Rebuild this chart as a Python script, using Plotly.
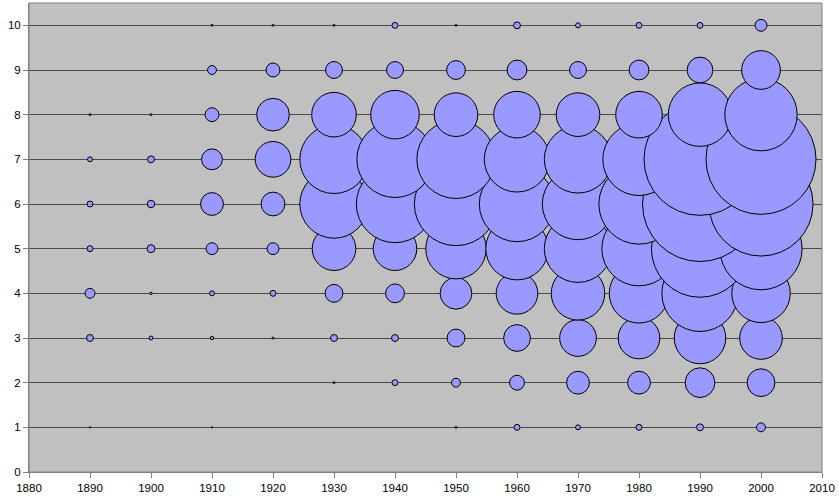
import plotly.graph_objects as go

decades = [1890, 1900, 1910, 1920, 1930, 1940, 1950, 1960, 1970, 1980, 1990, 2000]
levels = [1, 2, 3, 4, 5, 6, 7, 8, 9, 10]

# bubble amounts (area-proportional), one list per level, by decade
amount_1 = [0.2, 0, 0.2, 0, 0, 0, 0.4, 3.6, 2.5, 3.6, 4.9, 8.1]
amount_2 = [0, 0, 0, 0, 0.4, 3.6, 8.1, 22.5, 52.9, 52.9, 90.0, 78.4]
amount_3 = [4.9, 1.6, 1.2, 0.4, 4.9, 4.9, 32.4, 72.9, 136.9, 176.4, 270.4, 184.9]
amount_4 = [10.0, 0.6, 2.5, 3.6, 32.4, 36.1, 102.4, 176.4, 291.6, 360.0, 592.9, 348.1]
amount_5 = [3.6, 6.4, 14.4, 14.4, 193.6, 193.6, 372.1, 396.9, 462.4, 562.5, 960.4, 688.9]
amount_6 = [3.6, 5.6, 52.9, 57.6, 476.1, 608.4, 705.6, 577.6, 518.4, 656.1, 1345.6, 1102.5]
amount_7 = [2.5, 4.9, 44.1, 129.6, 476.1, 592.9, 624.1, 435.6, 462.4, 532.9, 1276.9, 1232.1]
amount_8 = [0.4, 0.4, 19.6, 108.9, 202.5, 240.1, 193.6, 220.9, 193.6, 220.9, 409.6, 532.9]
amount_9 = [0, 0, 8.1, 19.6, 28.9, 28.9, 36.1, 40.0, 28.9, 40.0, 67.6, 152.1]
amount_10 = [0, 0, 0.4, 0.4, 0.4, 3.6, 0.4, 4.9, 2.5, 3.6, 3.6, 14.4]

amounts = [amount_1, amount_2, amount_3, amount_4, amount_5,
           amount_6, amount_7, amount_8, amount_9, amount_10]

x_ticks = [1880, 1890, 1900, 1910, 1920, 1930, 1940, 1950, 1960, 1970, 1980, 1990, 2000, 2010]
y_ticks = [0, 1, 2, 3, 4, 5, 6, 7, 8, 9, 10]

max_amount = max(max(a) for a in amounts)
max_diam = 115
sizeref = 2 * max_amount / (max_diam ** 2)

fig = go.Figure()
for lvl, vals in zip(levels, amounts):
    xs = [d for d, v in zip(decades, vals) if v > 0]
    vs = [v for v in vals if v > 0]
    fig.add_trace(go.Scatter(
        x=xs, y=[lvl] * len(xs), mode="markers",
        marker=dict(size=vs, sizemode="area", sizeref=sizeref, sizemin=0,
                    color="#9999FF", line=dict(color="#000000", width=1),
                    opacity=1),
        showlegend=False, hoverinfo="skip",
    ))

fig.update_layout(
    width=839, height=502,
    margin=dict(l=29, r=17, t=3, b=30, autoexpand=False),
    paper_bgcolor="#FFFFFF",
    plot_bgcolor="#C0C0C0",
    font=dict(family="Liberation Sans, Arial, sans-serif", size=11.5, color="#000000"),
    showlegend=False,
)
fig.update_xaxes(
    range=[1880, 2010], tickvals=x_ticks, ticktext=[str(t) for t in x_ticks],
    showgrid=False, zeroline=False, automargin=False,
    showline=True, linecolor="#808080", linewidth=1,
    ticks="outside", ticklen=5, tickcolor="#808080",
    mirror=False,
)
fig.update_yaxes(
    range=[0, 10.5], tickvals=y_ticks, ticktext=[str(t) for t in y_ticks],
    showgrid=True, gridcolor="#4a4a4a", gridwidth=1, zeroline=False, automargin=False,
    showline=True, linecolor="#808080", linewidth=1,
    ticks="outside", ticklen=5, tickcolor="#808080",
)
# plot-area border (top & right)
fig.add_shape(type="rect", xref="paper", yref="paper", x0=0, y0=0, x1=1, y1=1,
              line=dict(color="#808080", width=1), fillcolor="rgba(0,0,0,0)", layer="above")

fig.write_html("out.html", config={"displayModeBar": False, "staticPlot": True},
               post_script="document.body.style.margin='0';document.body.style.padding='0';")
